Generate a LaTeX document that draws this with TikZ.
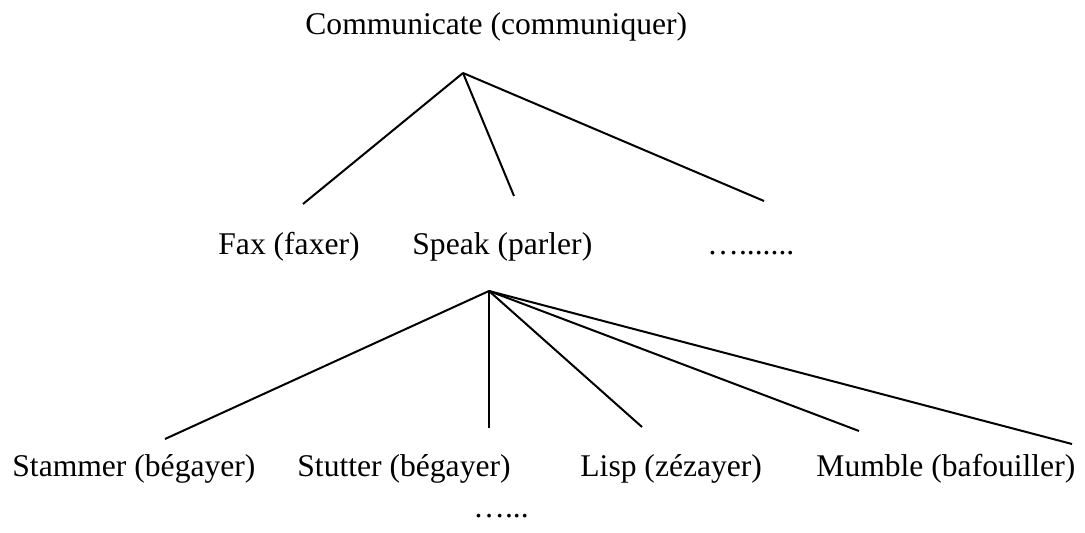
\documentclass[tikz,border=0pt]{standalone}
\usepackage{fontspec}
\setmainfont{Liberation Serif}
\tikzset{
  word/.style={inner sep=0pt, anchor=base west, font=\fontsize{15.8}{19}\selectfont},
  branch/.style={line width=1pt}
}
\begin{document}
\begin{tikzpicture}[x=0.5pt,y=-0.5pt]
      \useasboundingbox (0,0) rectangle (1085,533);

      % verbs
      \node[word] (communicate) at (305,35)  {Communicate (communiquer)};
      \node[word] (fax)         at (218,255) {Fax (faxer)};
      \node[word] (speak)       at (412,255) {Speak (parler)};
      \node[word] (moreverbs)   at (707,255) {….......};
      \node[word] (stammer)     at ( 12,476) {Stammer (bégayer)};
      \node[word] (stutter)     at (297,476) {Stutter (bégayer)};
      \node[word] (lisp)        at (580,476) {Lisp (zézayer)};
      \node[word] (mumble)      at (816,476) {Mumble (bafouiller)};
      \node[word] (morespeak)   at (473,517) {…...};

      % branch points
      \coordinate (c0) at (463, 73);
      \coordinate (c1) at (303,204);
      \coordinate (c2) at (514,196);
      \coordinate (c3) at (764,201);

      \coordinate (s0) at (489,291);
      \coordinate (s1) at (165,439);
      \coordinate (s2) at (489,428);
      \coordinate (s3) at (642,427);
      \coordinate (s4) at (859,431);
      \coordinate (s5) at (1072,444);

      \draw[branch] (c0)--(c1);
      \draw[branch] (c0)--(c2);
      \draw[branch] (c0)--(c3);

      \draw[branch] (s0)--(s1);
      \draw[branch] (s0)--(s2);
      \draw[branch] (s0)--(s3);
      \draw[branch] (s0)--(s4);
      \draw[branch] (s0)--(s5);
\end{tikzpicture}
\end{document}
